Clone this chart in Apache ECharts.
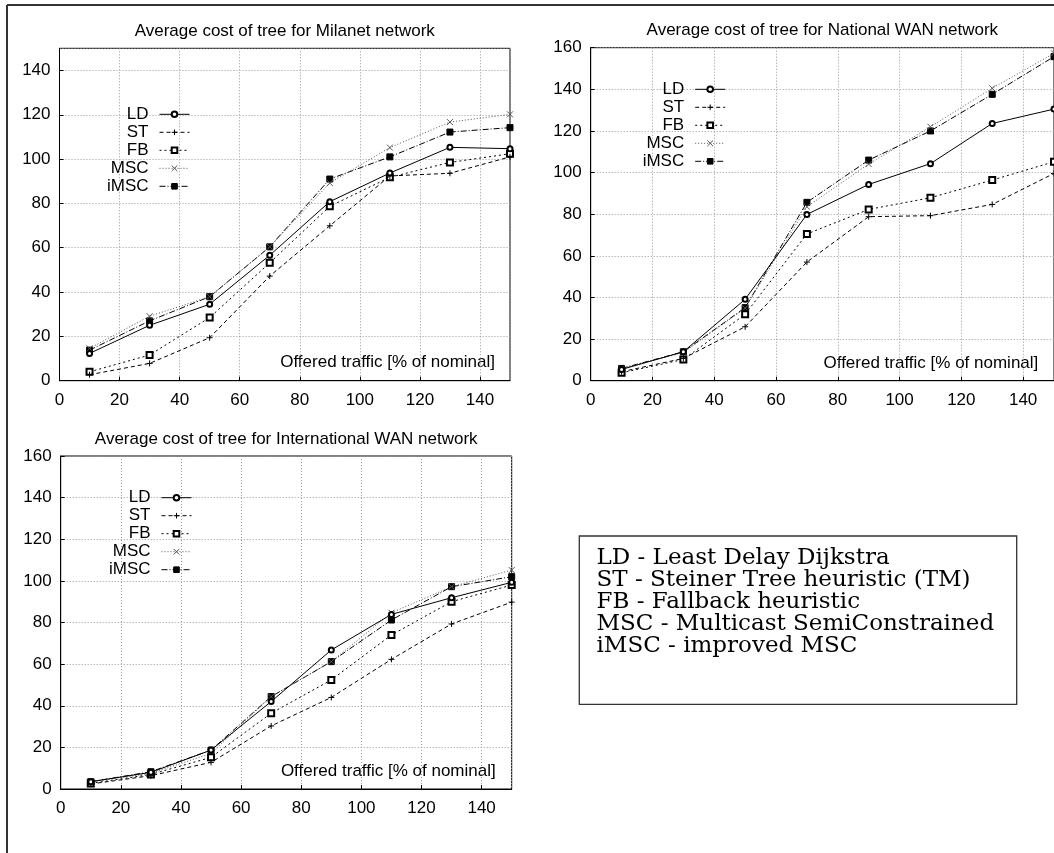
<!DOCTYPE html>
<html>
<head>
<meta charset="utf-8">
<script src="https://cdn.jsdelivr.net/npm/echarts@6/dist/echarts.min.js"></script>
<style>
  html, body { margin: 0; padding: 0; background: #fff; }
  #chart { width: 1054px; height: 853px; }
</style>
</head>
<body>
<div id="chart"></div>
<script>
// offered traffic, % of nominal
const traffic = [10, 30, 50, 70, 90, 110, 130, 150];
const methods = ['LD', 'ST', 'FB', 'MSC', 'iMSC'];

// Milanet
const milLD   = [12.3, 25, 34.5, 56.6, 80.8, 93.7, 105.3, 104.7];
const milST   = [2.7, 7.8, 19.4, 47.2, 69.9, 92.4, 93.6, 101];
const milFB   = [4, 11.6, 28.5, 53.2, 78.7, 91.8, 98.5, 102.4];
const milMSC  = [14.6, 29.1, 37.9, 60.4, 89.2, 105.2, 116.7, 120.2];
const milIMSC = [13.8, 27, 37.9, 60.4, 91, 101, 112.2, 114.2];

// National WAN
const natLD   = [5.4, 13.9, 39.1, 79.9, 94.3, 104.3, 123.6, 130.5];
const natST   = [4.3, 10.7, 25.9, 57, 78.8, 79.3, 84.7, 99.6];
const natFB   = [3.8, 10.2, 31.9, 70.5, 82.3, 87.9, 96.4, 105.2];
const natMSC  = [5.9, 13.5, 34.8, 83.6, 104.1, 122, 140.5, 157.3];
const natIMSC = [5.9, 13.9, 35.1, 85.7, 106, 120, 137.6, 155.7];

// International WAN
const intLD   = [3.5, 8, 18.7, 42, 66.8, 83.9, 91.9, 99.3];
const intST   = [2.4, 6.4, 12.8, 30.3, 44, 62.3, 79.3, 89.8];
const intFB   = [2.7, 7, 15.2, 36.4, 52.4, 74, 90, 98];
const intMSC  = [3.5, 7.5, 17.1, 44.4, 61.2, 84.7, 97.2, 105.2];
const intIMSC = [3.5, 8.3, 18.7, 44.4, 61.2, 81.2, 97.2, 102];

const titles = [
  'Average cost of tree for Milanet network',
  'Average cost of tree for National WAN network',
  'Average cost of tree for International WAN network'
];
const xLabel = 'Offered traffic [% of nominal]';
const yMax = [150, 160, 160];
const notes = [
  'LD - Least Delay Dijkstra',
  'ST - Steiner Tree heuristic (TM)',
  'FB - Fallback heuristic',
  'MSC - Multicast SemiConstrained',
  'iMSC - improved MSC'
];

const panels = [
  [milLD, milST, milFB, milMSC, milIMSC],
  [natLD, natST, natFB, natMSC, natIMSC],
  [intLD, intST, intFB, intMSC, intIMSC]
];

const SANS = 'Liberation Sans, Arial, sans-serif';

const look = {
  LD:   { symbol: 'emptyCircle', size: 5, line: 'solid', color: '#000' },
  ST:   { symbol: 'path://M0,5L10,5M5,0L5,10', size: 6, line: [4, 3], color: '#000' },
  FB:   { symbol: 'emptyRect', size: 6, line: [2, 3], color: '#000' },
  MSC:  { symbol: 'path://M0,0L10,10M10,0L0,10', size: 6, line: [1, 2], color: '#555' },
  iMSC: { symbol: 'rect', size: 6, line: [6, 2, 1, 2], color: '#000' }
};

const grids = [
  { left: 59.5, top: 48.3, width: 450.5, height: 332.4 },
  { left: 590.7, top: 47.7, width: 463.3, height: 333 },
  { left: 60.7, top: 456, width: 451, height: 333 }
];

const chart = echarts.init(document.getElementById('chart'), null, { renderer: 'canvas' });

const xAxis = grids.map((g, i) => ({
  gridIndex: i, type: 'value', min: 0, max: 150, interval: 20,
  axisLine: { show: true, lineStyle: { color: '#000', width: 1 } },
  axisTick: { show: true, inside: true, length: 4, lineStyle: { color: '#000' } },
  axisLabel: { color: '#000', fontSize: 17, fontFamily: SANS, margin: 11, showMaxLabel: false },
  splitLine: { show: true, lineStyle: { color: '#999', type: [1, 2], width: 1 } }
}));

const yAxis = grids.map((g, i) => ({
  gridIndex: i, type: 'value', min: 0, max: yMax[i], interval: 20,
  axisLine: { show: true, lineStyle: { color: '#000', width: 1 } },
  axisTick: { show: true, inside: true, length: 4, lineStyle: { color: '#000' } },
  axisLabel: { color: '#000', fontSize: 17, fontFamily: SANS, margin: 9, showMaxLabel: yMax[i] % 20 === 0 },
  splitLine: { show: true, lineStyle: { color: '#999', type: [1, 2], width: 1 } }
}));

const series = [];
panels.forEach((sets, i) => {
  sets.forEach((vals, k) => {
    const name = methods[k];
    const s = look[name];
    series.push({
      name: name, type: 'line', xAxisIndex: i, yAxisIndex: i,
      data: traffic.map((t, j) => [t, vals[j]]),
      symbol: s.symbol, symbolSize: s.size, showSymbol: true,
      lineStyle: { color: s.color, width: 1, type: s.line },
      itemStyle: { color: s.color, borderColor: s.color, borderWidth: 1 },
      animation: false, z: 10 - k
    });
  });
});

const legendBase = {
  orient: 'vertical', align: 'right', padding: 0,
  itemWidth: 30, itemHeight: 7, itemGap: 1,
  selectedMode: false, data: methods,
  textStyle: { color: '#000', fontSize: 17, fontFamily: SANS, padding: [0, 6, 0, 0] },
  itemStyle: { borderWidth: 1 },
  lineStyle: { width: 1 }
};
const legend = [
  Object.assign({}, legendBase, { right: 864, top: 105.8 }),
  Object.assign({}, legendBase, { right: 328.3, top: 80.8 }),
  Object.assign({}, legendBase, { right: 862, top: 489.2 })
];

const graphic = [
  // page frame
  { type: 'line', shape: { x1: 7, y1: 5, x2: 1054, y2: 5 }, style: { stroke: '#333', lineWidth: 2 } },
  { type: 'line', shape: { x1: 7, y1: 5, x2: 7, y2: 853 }, style: { stroke: '#333', lineWidth: 2 } }
];
grids.forEach((g, i) => {
  graphic.push({
    type: 'text', x: g.left + g.width / 2, y: g.top - 17,
    style: { text: titles[i], fill: '#000', font: '17px ' + SANS, align: 'center', verticalAlign: 'middle' }
  });
});
graphic.push(
  { type: 'text', x: 495, y: 362.7, style: { text: xLabel, fill: '#000', font: '17px ' + SANS, align: 'right', verticalAlign: 'middle' } },
  { type: 'text', x: 1038.3, y: 363.3, style: { text: xLabel, fill: '#000', font: '17px ' + SANS, align: 'right', verticalAlign: 'middle' } },
  { type: 'text', x: 495.7, y: 771.7, style: { text: xLabel, fill: '#000', font: '17px ' + SANS, align: 'right', verticalAlign: 'middle' } }
);
// key box
graphic.push({
  type: 'rect', shape: { x: 579.3, y: 536, width: 437.4, height: 168.3 },
  style: { fill: '#fff', stroke: '#333', lineWidth: 1.3 }
});
notes.forEach((t, i) => {
  graphic.push({
    type: 'text', x: 596.5, y: 558 + i * 22,
    style: { text: t, fill: '#000', font: '23px DejaVu Serif, serif', align: 'left', verticalAlign: 'middle' }
  });
});

chart.setOption({
  animation: false,
  backgroundColor: '#fff',
  grid: grids.map(g => Object.assign({ show: true, borderColor: '#000', borderWidth: 1, backgroundColor: 'transparent' }, g)),
  xAxis: xAxis,
  yAxis: yAxis,
  legend: legend,
  series: series,
  graphic: graphic
});
</script>
</body>
</html>
